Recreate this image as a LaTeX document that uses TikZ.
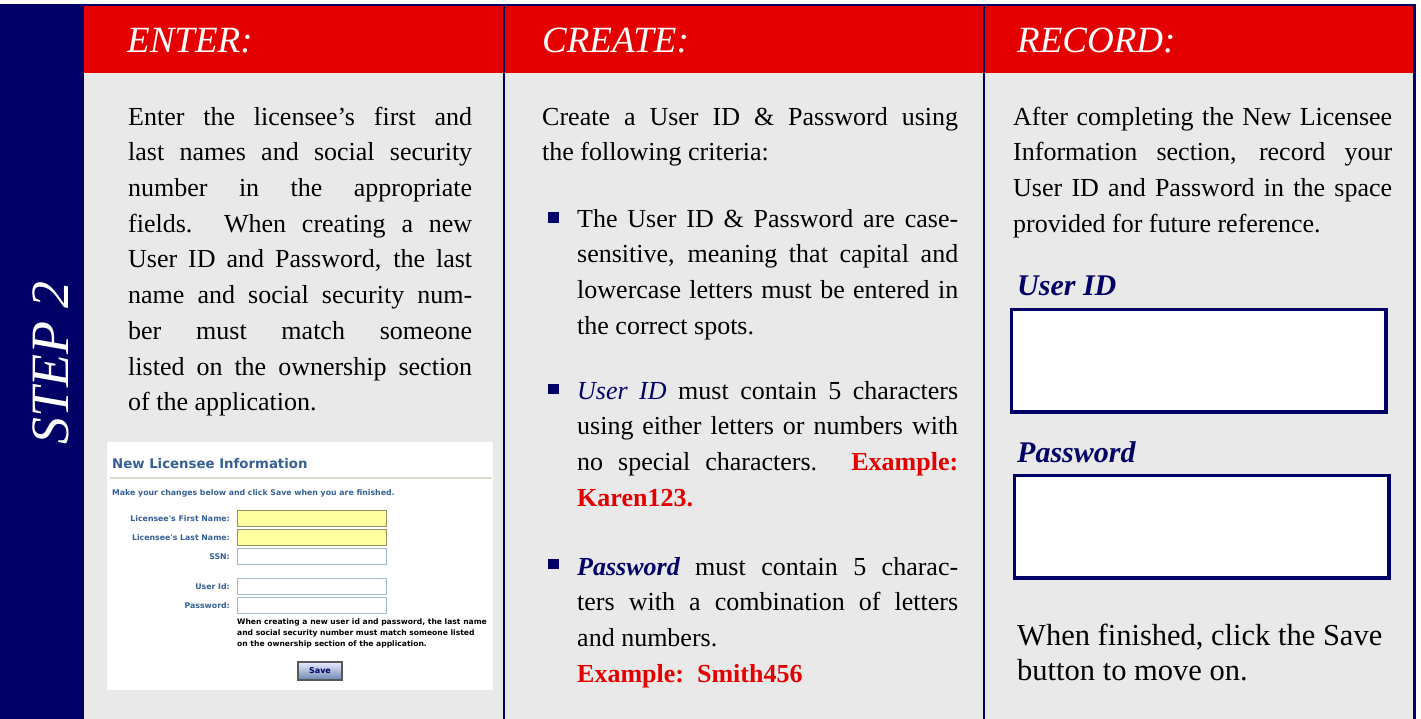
\documentclass[tikz,border=0pt]{standalone}
\usepackage{fontspec}
\setmainfont{Liberation Serif}
\newfontfamily\formfont{DejaVu Sans}
\usetikzlibrary{positioning}

\definecolor{stepnavy}{RGB}{0,0,102}
\definecolor{headred}{RGB}{228,0,0}
\definecolor{panelgrey}{RGB}{233,233,233}
\definecolor{formblue}{RGB}{54,96,150}
\definecolor{fieldyellow}{RGB}{255,255,160}
\definecolor{yellowedge}{RGB}{150,145,100}
\definecolor{fieldedge}{RGB}{165,185,205}
\definecolor{rulebeige}{RGB}{222,218,200}

\newcommand{\redexample}[1]{{\color{headred}\bfseries #1}}
\tolerance=10000
\hbadness=10000

\begin{document}
\begin{tikzpicture}[
    x=1pt, y=-1pt,
    heading/.style={anchor=base west, inner sep=0pt, text=white, font=\fontsize{37}{44}\selectfont\itshape},
    bodytext/.style={anchor=north west, inner sep=0pt, align=justify, font=\fontsize{26}{35.7}\selectfont},
    bulletbox/.style={fill=stepnavy, minimum size=10.5pt, inner sep=0pt},
    fieldname/.style={anchor=base west, inner sep=0pt, text=stepnavy, font=\fontsize{30}{36}\selectfont\bfseries\itshape},
    answerbox/.style={draw=stepnavy, line width=3.5pt, fill=white, minimum width=374.5pt, minimum height=102.5pt, anchor=north west, inner sep=0pt},
    formlabel/.style={text=formblue, inner sep=0pt, font=\formfont\bfseries\fontsize{7.8}{9}\selectfont},
    formfield/.style={line width=1pt, minimum width=149pt, minimum height=16pt, anchor=north west, inner sep=0pt},
    savebutton/.style={draw=gray!70!black, line width=1.2pt, top color=blue!8!white, bottom color=formblue!75, minimum width=44pt, minimum height=18pt, inner sep=0pt, text=stepnavy, font=\formfont\bfseries\fontsize{8}{9}\selectfont}
]
\useasboundingbox (0,0) rectangle (1421,719);

% Panels
\fill[panelgrey] (84,6) rectangle (1414,719);
\fill[headred] (84,6.5) rectangle (1414,73);
\fill[stepnavy] (0,5) rectangle (84,719);
\draw[stepnavy, line width=2pt] (0,5.5) -- (1415.5,5.5);
\draw[stepnavy, line width=2.5pt] (1414.5,5) -- (1414.5,719);
\foreach \x in {504,983.5}
    \draw[stepnavy, line width=2pt] (\x,6) -- (\x,719);

% Side label
\node[rotate=90, inner sep=0pt, text=white, font=\fontsize{54}{60}\selectfont\itshape] (stepLabel) at (51,363) {STEP 2};

% Column titles
\foreach \title/\x [count=\k] in {ENTER:/127, CREATE:/542, RECORD:/1017}
    \node[heading] (head\k) at (\x,53) {\title};

% Column 1
\node[bodytext, text width=344pt] (enterText) at (128,100) {\strut Enter the licensee's first and\linebreak
    last names and social security\linebreak
    number in the appropriate\linebreak
    fields.\ \ When creating a new\linebreak
    User ID and Password, the last\linebreak
    name and social security num\mbox{-}\linebreak
    ber must match someone\linebreak
    listed on the ownership section\linebreak
    of the application.};

% Form snapshot
\node[fill=white, minimum width=386pt, minimum height=248pt, anchor=north west, inner sep=0pt] (formPanel) at (107,442) {};
\node[anchor=base west, inner sep=0pt, text=formblue, font=\formfont\bfseries\fontsize{13.3}{15}\selectfont] (formTitle) at (112,468) {New Licensee Information};
\draw[rulebeige, line width=1.5pt] (110,478) -- (492,478);
\node[anchor=base west, inner sep=0pt, text=formblue, font=\formfont\bfseries\fontsize{7.8}{9}\selectfont] (formHint) at (112,495) {Make your changes below and click Save when you are finished.};
\foreach \lbl/\y/\fc/\ec [count=\k] in {Licensee's First Name:/510/fieldyellow/yellowedge, Licensee's Last Name:/529/fieldyellow/yellowedge, SSN:/548/white/fieldedge, User Id:/578/white/fieldedge, Password:/597/white/fieldedge}{
    \node[formfield, fill=\fc, draw=\ec] (field\k) at (237,\y) {};
    \node[formlabel, left=7pt of field\k] (label\k) {\lbl};
}
\node[anchor=north west, inner sep=0pt, align=left, font=\formfont\bfseries\fontsize{7.6}{11}\selectfont] (formNote) at (237,617) {\strut When creating a new user id and password, the last name\\
    and social security number must match someone listed\\
    on the ownership section of the application.};
\node[savebutton] (saveBtn) at (320,671) {Save};

% Column 2
\node[bodytext, text width=416pt] (createText) at (542,100) {\strut Create a User ID \& Password using\linebreak
    the following criteria:};
\foreach \y [count=\k] in {217.5,389,564}
    \node[bulletbox] (bullet\k) at (553.5,\y) {};
\node[bodytext, text width=381pt] (caseText) at (577,202) {\strut The User ID \& Password are case\mbox{-}\linebreak
    sensitive, meaning that capital and\linebreak
    lowercase letters must be entered in\linebreak
    the correct spots.};
\node[bodytext, text width=381pt] (userText) at (577,374) {\strut {\color{stepnavy}\itshape User ID} must contain 5 characters\linebreak
    using either letters or numbers with\linebreak
    no special characters. \redexample{Example:}\linebreak
    \redexample{Karen123.}};
\node[bodytext, text width=381pt] (passText) at (577,550) {\strut {\color{stepnavy}\bfseries\itshape Password} must contain 5 charac\mbox{-}\linebreak
    ters with a combination of letters\linebreak
    and numbers.\par
    \redexample{Example:\ \ Smith456}};

% Column 3
\node[bodytext, text width=379pt] (recordText) at (1013,100) {\strut After completing the New Licensee\linebreak
    Information section, record your\linebreak
    User ID and Password in the space\linebreak
    provided for future reference.};
\node[fieldname] (idLabel) at (1017,295) {User ID};
\node[answerbox] (idBox) at (1009.75,307.75) {};
\node[fieldname] (pwLabel) at (1017,462) {Password};
\node[answerbox] (pwBox) at (1012.75,473.75) {};
\node[anchor=north west, inner sep=0pt, align=left, font=\fontsize{30.5}{35}\selectfont] (finishText) at (1017,620.5) {\strut When finished, click the Save\\
    button to move on.};

\end{tikzpicture}
\end{document}
